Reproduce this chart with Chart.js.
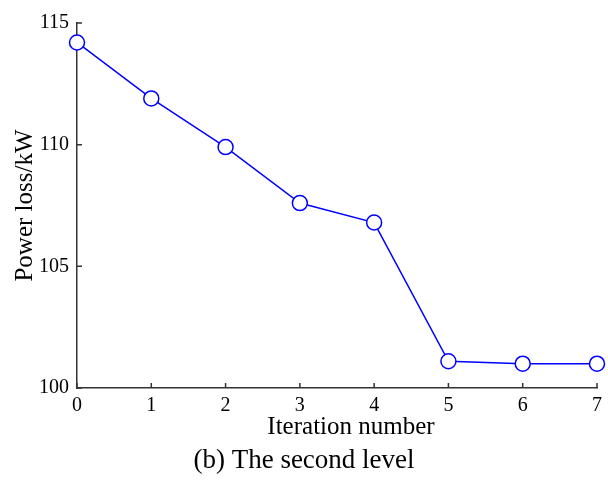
<!DOCTYPE html>
<html>
<head>
<meta charset="utf-8">
<script src="https://cdn.jsdelivr.net/npm/chart.js@4/dist/chart.umd.min.js"></script>
<style>
  html, body { margin: 0; padding: 0; background: #ffffff; }
  #wrap { width: 608px; height: 482px; position: relative; }
</style>
</head>
<body>
<div id="wrap"><canvas id="c" width="608" height="482"></canvas></div>
<script>
// ---- data ----
const iterations = ['0', '1', '2', '3', '4', '5', '6', '7'];
const powerLoss = [114.2, 111.9, 109.9, 107.6, 106.8, 101.1, 101.0, 101.0];
const yTicks = [100, 105, 110, 115];
const xTitle = 'Iteration number';
const yTitle = 'Power loss/kW';
const caption = '(b) The second level';

const SERIF = '"Liberation Serif", "Times New Roman", serif';
const AXIS_COLOR = '#333333';

// draws inward tick marks, the x-axis title and the figure caption
const decor = {
  id: 'decor',
  afterDraw(chart) {
    const ctx = chart.ctx;
    const area = chart.chartArea;
    const xs = chart.scales.x, ys = chart.scales.y;
    ctx.save();
    ctx.strokeStyle = AXIS_COLOR;
    ctx.lineWidth = 1.5;
    ctx.beginPath();
    iterations.forEach((lab, i) => {
      const px = xs.getPixelForValue(i);
      ctx.moveTo(px, area.bottom);
      ctx.lineTo(px, area.bottom - 5);
    });
    yTicks.forEach(v => {
      const py = ys.getPixelForValue(v);
      ctx.moveTo(area.left, py);
      ctx.lineTo(area.left + 5, py);
    });
    ctx.stroke();

    ctx.fillStyle = '#000000';
    ctx.textAlign = 'center';
    ctx.textBaseline = 'alphabetic';
    ctx.font = '25px ' + SERIF;
    ctx.fillText(xTitle, (area.left + area.right) / 2 + 14, area.bottom + 46);
    ctx.font = '27px ' + SERIF;
    ctx.fillText(caption, chart.width / 2, area.bottom + 80);
    ctx.restore();
  }
};

new Chart(document.getElementById('c'), {
  type: 'line',
  data: {
    labels: iterations,
    datasets: [{
      data: powerLoss,
      borderColor: '#0000ff',
      borderWidth: 1.5,
      backgroundColor: '#ffffff',
      pointBackgroundColor: '#ffffff',
      pointBorderColor: '#0000ff',
      pointBorderWidth: 1.5,
      pointRadius: 7.5,
      pointHoverRadius: 7.5,
      tension: 0,
      clip: false
    }]
  },
  options: {
    responsive: false,
    animation: false,
    devicePixelRatio: 1,
    layout: { padding: { left: 0, right: 10, top: 23, bottom: 0 } },
    plugins: {
      legend: { display: false },
      tooltip: { enabled: false },
      title: { display: false }
    },
    scales: {
      x: {
        type: 'category',
        offset: false,
        grid: { display: false, drawTicks: false },
        border: { display: true, color: AXIS_COLOR, width: 1.5 },
        ticks: {
          color: '#000000',
          font: { family: SERIF, size: 20 },
          padding: 6,
          maxRotation: 0,
          autoSkip: false
        },
        afterFit(scale) { scale.height = 94; }
      },
      y: {
        type: 'linear',
        min: 100,
        max: 115,
        afterBuildTicks(scale) { scale.ticks = yTicks.map(v => ({ value: v })); },
        grid: { display: false, drawTicks: false },
        border: { display: true, color: AXIS_COLOR, width: 1.5 },
        ticks: {
          color: '#000000',
          font: { family: SERIF, size: 20 },
          padding: 8
        },
        title: {
          display: true,
          text: yTitle,
          color: '#000000',
          font: { family: SERIF, size: 25 },
          padding: { top: 10, bottom: 0 }
        },
        afterFit(scale) { scale.width = 77; }
      }
    }
  },
  plugins: [decor]
});
</script>
</body>
</html>
